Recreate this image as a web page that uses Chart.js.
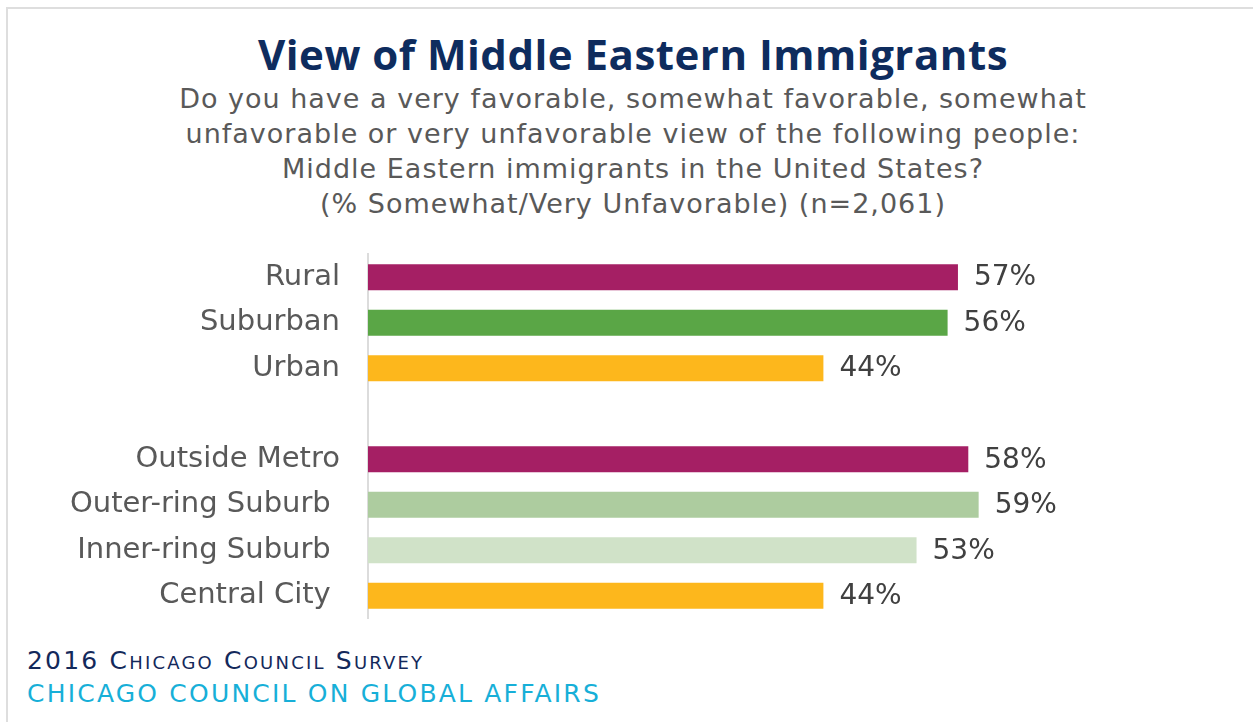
<!DOCTYPE html>
<html>
<head>
<meta charset="utf-8">
<script src="https://cdn.jsdelivr.net/npm/chart.js@4.4.0/dist/chart.umd.min.js"></script>
<style>
  body { margin: 0; background: #fff; width: 1253px; height: 722px; overflow: hidden; position: relative; }
  .frame { position: absolute; left: 6px; top: 7px; width: 1300px; height: 800px; border-top: 2px solid #dedede; border-left: 2px solid #dedede; }
  .title { position: absolute; left: 8px; width: 1250px; top: 30px; text-align: center; font: 700 42px "Open Sans", sans-serif; line-height: 48px; letter-spacing: 0.5px; color: #0e2c5e; }
  .subtitle { position: absolute; left: 8px; width: 1250px; top: 81px; text-align: center; font: 27px "DejaVu Sans", sans-serif; line-height: 35px; letter-spacing: 1px; color: #595959; }
  .foot1 { position: absolute; left: 27px; top: 646px; font: 25px "DejaVu Sans", sans-serif; font-variant: small-caps; color: #13295b; letter-spacing: 2.2px; }
  .foot2 { position: absolute; left: 27px; top: 679px; font: 25px "DejaVu Sans", sans-serif; color: #17afd8; letter-spacing: 2.2px; }
  #wrap { position: absolute; left: 0; top: 209px; width: 1253px; height: 455px; }
</style>
</head>
<body>
<div class="frame"></div>
<div class="title">View of Middle Eastern Immigrants</div>
<div class="subtitle">Do you have a very favorable, somewhat favorable, somewhat<br>unfavorable or very unfavorable view of the following people:<br>Middle Eastern immigrants in the United States?<br>(% Somewhat/Very Unfavorable) (n=2,061)</div>
<div class="foot1">2016 Chicago Council Survey</div>
<div class="foot2">CHICAGO COUNCIL ON GLOBAL AFFAIRS</div>
<div id="wrap"><canvas id="chart"></canvas></div>
<script>
// categories (empty one is the gap between the two groups)
var categories = ['Rural', 'Suburban', 'Urban', '', 'Outside Metro', 'Outer-ring Suburb ', 'Inner-ring Suburb ', 'Central City '];
var unfavorable = [57, 56, 44, null, 58, 59, 53, 44];
var barColors = ['#a51f64', '#5aa646', '#fdb71c', '#ffffff', '#a51f64', '#adcc9f', '#d0e2c8', '#fdb71c'];

// % values right of the bars
var valueLabels = {
    id: 'valueLabels',
    afterDatasetsDraw: function(chart) {
        var ctx = chart.ctx;
        var meta = chart.getDatasetMeta(0);
        ctx.save();
        ctx.font = '28px "DejaVu Sans", sans-serif';
        ctx.fillStyle = '#404040';
        ctx.textBaseline = 'middle';
        ctx.textAlign = 'left';
        meta.data.forEach(function(bar, i) {
            if (unfavorable[i] === null) return;
            ctx.fillText(unfavorable[i] + '%', bar.x + 16, bar.y + 1);
        });
        ctx.restore();
    }
};

new Chart(document.getElementById('chart'), {
    type: 'bar',
    data: {
        labels: categories,
        datasets: [{
            data: unfavorable,
            backgroundColor: barColors,
            barPercentage: 0.57,
            categoryPercentage: 1
        }]
    },
    options: {
        indexAxis: 'y',
        responsive: true,
        maintainAspectRatio: false,
        animation: false,
        // tick padding + half label height already gives ~45px top/bottom
        layout: { padding: { top: 0, bottom: 0, left: 0, right: 57 } },
        plugins: {
            legend: { display: false },
            tooltip: { enabled: false }
        },
        scales: {
            x: { display: false, min: 0, max: 80 },
            y: {
                grid: { display: false, drawTicks: false },
                border: { display: true, color: '#dcdcdc', width: 2 },
                ticks: {
                    padding: 28,
                    color: '#595959',
                    font: { family: 'DejaVu Sans', size: 29 }
                },
                afterFit: function(scale) { scale.width = 368; }
            }
        }
    },
    plugins: [valueLabels]
});
</script>
</body>
</html>
